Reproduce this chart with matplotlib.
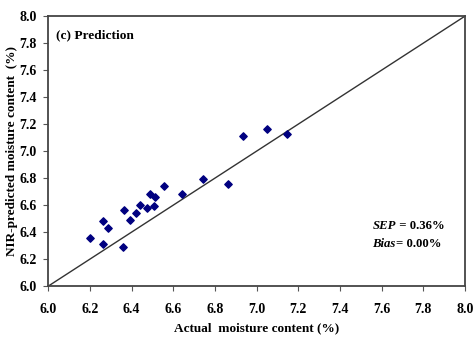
import matplotlib.pyplot as plt

actual = [6.20, 6.26, 6.26, 6.285, 6.365, 6.36, 6.39, 6.42, 6.44, 6.475,
          6.49, 6.51, 6.505, 6.555, 6.64, 6.74, 6.86, 6.935, 7.05, 7.145]
predicted = [6.355, 6.48, 6.31, 6.43, 6.565, 6.29, 6.49, 6.54, 6.60, 6.575,
             6.68, 6.66, 6.595, 6.745, 6.68, 6.795, 6.755, 7.115, 7.165, 7.125]
ticks = [6.0, 6.2, 6.4, 6.6, 6.8, 7.0, 7.2, 7.4, 7.6, 7.8, 8.0]

plt.rcParams['font.family'] = 'Liberation Serif'
plt.rcParams['font.weight'] = 'bold'

fig = plt.figure(figsize=(4.74, 3.43), dpi=100)
ax = fig.add_axes([0.102, 0.166, 0.879, 0.787])

ax.plot([6, 8], [6, 8], color='#333333', lw=1.0)
ax.scatter(actual, predicted, marker='D', s=14, color='#000080', zorder=3)

ax.set_xlim(6, 8)
ax.set_ylim(6, 8)
ax.set_xticks(ticks)
ax.set_yticks(ticks)
ax.set_xticklabels([f"{t:.1f}" for t in ticks], fontsize=10, fontweight='bold')
ax.set_yticklabels([f"{t:.1f}" for t in ticks], fontsize=10, fontweight='bold')
ax.tick_params(direction='out', length=3.5, width=0.8, color='#555555')
ax.tick_params(axis='x', pad=9)
ax.tick_params(axis='y', pad=5)
for s in ax.spines.values():
    s.set_linewidth(1.3)
    s.set_color('#444444')

ax.set_xlabel('Actual  moisture content (%)', fontsize=9.5, fontweight='bold', labelpad=4)
ax.set_ylabel('NIR-predicted moisture content  (%)', fontsize=9.5, fontweight='bold', labelpad=1)

ax.text(6.037, 7.86, '(c) Prediction', fontsize=9.6, fontweight='bold', va='center')

t1 = ax.text(7.555, 6.447, 'SEP', fontsize=9.2, fontweight='bold', style='italic', va='center')
ax.annotate(' = 0.36%', xy=(1, 0), xycoords=t1, va='bottom', fontsize=9.2, fontweight='bold')
t2 = ax.text(7.555, 6.313, 'Bias', fontsize=9.2, fontweight='bold', style='italic', va='center')
ax.annotate('= 0.00%', xy=(1, 0), xycoords=t2, va='bottom', fontsize=9.2, fontweight='bold')

fig.savefig('out.png', dpi=100)
